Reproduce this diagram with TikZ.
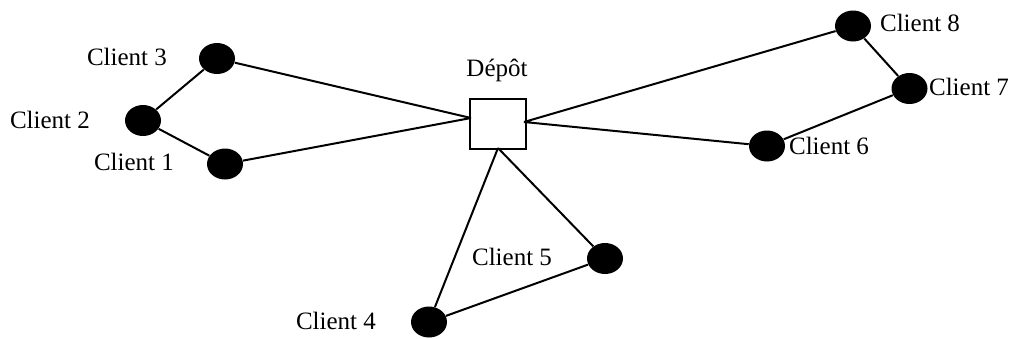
\documentclass[tikz,border=0pt]{standalone}
\usepackage{fontspec}
\setmainfont{Liberation Serif}
\usetikzlibrary{shapes.geometric}
\tikzset{
  client/.style={ellipse, fill=black, draw=none, inner sep=0pt, minimum width=18pt, minimum height=15.5pt},
  depot/.style={rectangle, draw=black, line width=1pt, inner sep=0pt, minimum width=28pt, minimum height=25pt},
  lbl/.style={inner sep=0pt, font=\fontsize{12.5}{15}\selectfont},
  route/.style={line width=1pt, black}
}
\begin{document}
\begin{tikzpicture}[x=0.5pt,y=-0.5pt]
\useasboundingbox (0,0) rectangle (1013,338);
\node[depot] (D) at (498,124) {};
\coordinate (DL) at (471,118);
\coordinate (DR) at (524,122);
\coordinate (DB) at (498,148);
\node[client] (c1) at (225,164) {};
\node[client] (c2) at (143,120.5) {};
\node[client] (c3) at (217,58.5) {};
\node[client] (c4) at (429,322) {};
\node[client] (c5) at (605,258.5) {};
\node[client] (c6) at (767,146) {};
\node[client] (c7) at (909.5,88.5) {};
\node[client] (c8) at (853,26) {};
\node[lbl] (t0) at (497,70) {Dépôt};
\node[lbl] (t1) at (134,162) {Client 1};
\node[lbl] (t2) at (50,120) {Client 2};
\node[lbl] (t3) at (127,57) {Client 3};
\node[lbl] (t4) at (336,321) {Client 4};
\node[lbl] (t5) at (512,257) {Client 5};
\node[lbl] (t6) at (829,146) {Client 6};
\node[lbl] (t7) at (969,87) {Client 7};
\node[lbl] (t8) at (920,23) {Client 8};
\draw[route] (DL) -- (c3) -- (c2) -- (c1) -- (DL);
\draw[route] (DB) -- (c5) -- (c4) -- (DB);
\draw[route] (DR) -- (c8) -- (c7) -- (c6) -- (DR);
\end{tikzpicture}
\end{document}
